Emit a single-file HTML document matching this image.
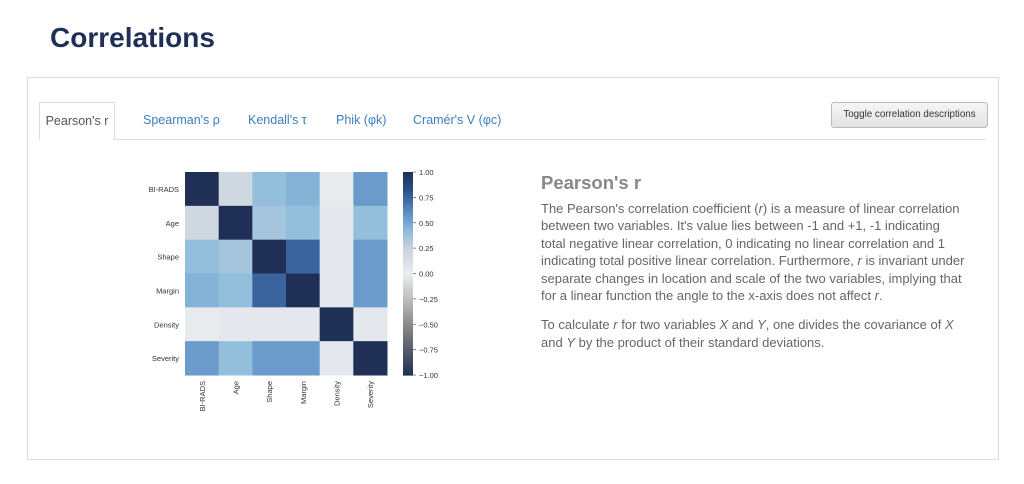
<!DOCTYPE html>
<html><head><meta charset="utf-8">
<style>
body{margin:0;width:1024px;height:484px;background:#fff;font-family:"Liberation Sans",sans-serif;position:relative;overflow:hidden}
.abs{position:absolute}
#title{left:50px;top:22px;font-size:28px;font-weight:bold;color:#1f2f56;margin:0}
#panel{left:27px;top:77px;width:970px;height:381px;border:1px solid #ddd}
.tab{position:absolute;top:102px;height:37px;line-height:37px;font-size:12.5px;color:#3b7fc0;padding:0 12px}
#tab-active{left:39px;width:76px;color:#555;border:1px solid #ddd;border-bottom:none;background:#fff;box-sizing:border-box;height:38px;text-align:center;padding:0}
#tabline{left:39px;top:139px;width:947px;border-top:1px solid #ddd}
#btn{left:831px;top:102px;width:155px;height:24px;border:1px solid #bbb;border-radius:3px;background:linear-gradient(#f6f6f6,#e2e2e2);font-size:9.8px;color:#333;text-align:center;line-height:24px}
#desc-title{left:541px;top:172px;font-size:18.5px;font-weight:bold;color:#888;margin:0}
#desc{left:541px;top:200px;width:425px;font-size:13px;line-height:17.4px;color:#666}
#desc p{margin:0 0 12px 0}
</style></head><body>
<h1 id="title" class="abs">Correlations</h1>
<div id="panel" class="abs"></div>
<div id="tabline" class="abs"></div>
<div id="tab-active" class="tab">Pearson's r</div>
<div class="tab" style="left:131px">Spearman's ρ</div>
<div class="tab" style="left:236px">Kendall's τ</div>
<div class="tab" style="left:324px">Phik (φk)</div>
<div class="tab" style="left:401px">Cramér's V (φc)</div>
<div id="btn" class="abs">Toggle correlation descriptions</div>
<h2 id="desc-title" class="abs">Pearson's r</h2>
<div id="desc" class="abs">
<p>The Pearson's correlation coefficient (<i>r</i>) is a measure of linear correlation between two variables. It's value lies between -1 and +1, -1 indicating total negative linear correlation, 0 indicating no linear correlation and 1 indicating total positive linear correlation. Furthermore, <i>r</i> is invariant under separate changes in location and scale of the two variables, implying that for a linear function the angle to the x-axis does not affect <i>r</i>.</p>
<p>To calculate <i>r</i> for two variables <i>X</i> and <i>Y</i>, one divides the covariance of <i>X</i> and <i>Y</i> by the product of their standard deviations.</p>
</div>
<svg id="chart" class="abs" style="left:0;top:0" width="1024" height="484"></svg>
<script>
const labels=["BI-RADS","Age","Shape","Margin","Density","Severity"];
const row0=[1,0.2,0.4,0.45,0.03,0.55];
const row1=[0.2,1,0.35,0.4,0.05,0.4];
const row2=[0.4,0.35,1,0.75,0.05,0.55];
const row3=[0.45,0.4,0.75,1,0.05,0.55];
const row4=[0.03,0.05,0.05,0.05,1,0.05];
const row5=[0.55,0.4,0.55,0.55,0.05,1];
const matrix=[row0,row1,row2,row3,row4,row5];
const ticks=[1,0.75,0.5,0.25,0,-0.25,-0.5,-0.75,-1];
const tickLabels=["1.00","0.75","0.50","0.25","0.00","\u22120.25","\u22120.50","\u22120.75","\u22121.00"];
const stops=[[-1,[31,47,86]],[-0.6,[120,120,120]],[-0.25,[190,190,190]],[0,[235,238,240]],[0.25,[200,210,220]],[0.4,[147,191,221]],[0.6,[92,143,196]],[0.8,[47,85,144]],[1,[31,47,86]]];
function color(v){for(let i=1;i<stops.length;i++){if(v<=stops[i][0]){const a=stops[i-1],b=stops[i],t=(v-a[0])/(b[0]-a[0]);return 'rgb('+a[1].map((c,k)=>Math.round(c+(b[1][k]-c)*t)).join(',')+')';}}return 'rgb(31,47,86)';}
const X0=185,Y0=172,W=202,H=203,n=labels.length,cw=W/n,ch=H/n;
const xPos=i=>X0+i*cw, yPos=i=>Y0+i*ch;
const CB={x:403,w:10,y:172,h:203};
const cbY=v=>CB.y+(1-v)/2*CB.h;
const svg=document.getElementById('chart');const NS='http://www.w3.org/2000/svg';
function mk(t,a,txt){const e=document.createElementNS(NS,t);for(const k in a)e.setAttribute(k,a[k]);if(txt!==undefined)e.textContent=txt;svg.appendChild(e);return e;}
matrix.forEach((row,r)=>row.forEach((v,c)=>{
 const e=mk('rect',{x:xPos(c),y:yPos(r),width:cw+0.5,height:ch+0.5,fill:color(v)});
 
 
}));
labels.forEach((l,i)=>{
 const t=mk('text',{x:X0-6,y:yPos(i)+ch/2+3,'text-anchor':'end','font-size':'7.5','fill':'#333'},l);
 
 
 const cx=xPos(i)+cw/2+3;
 const u=mk('text',{x:cx,y:Y0+H+6,'text-anchor':'end','font-size':'7.5','fill':'#333',transform:'rotate(-90 '+cx+' '+(Y0+H+6)+')'},l);
 
 
});
for(let i=0;i<100;i++){const v=1-i*0.02;const r=mk('rect',{x:CB.x,y:cbY(v),width:CB.w,height:CB.h/100+0.6,fill:color(v-0.01)});
 
 }
ticks.forEach((v,i)=>{
 mk('line',{x1:CB.x+CB.w,x2:CB.x+CB.w+3,y1:cbY(v),y2:cbY(v),stroke:'#555','stroke-width':0.7});
 const t=mk('text',{x:CB.x+CB.w+6,y:cbY(v)+3,'font-size':'7.5','fill':'#333'},tickLabels[i]);
 
 
});
</script>
</body></html>
